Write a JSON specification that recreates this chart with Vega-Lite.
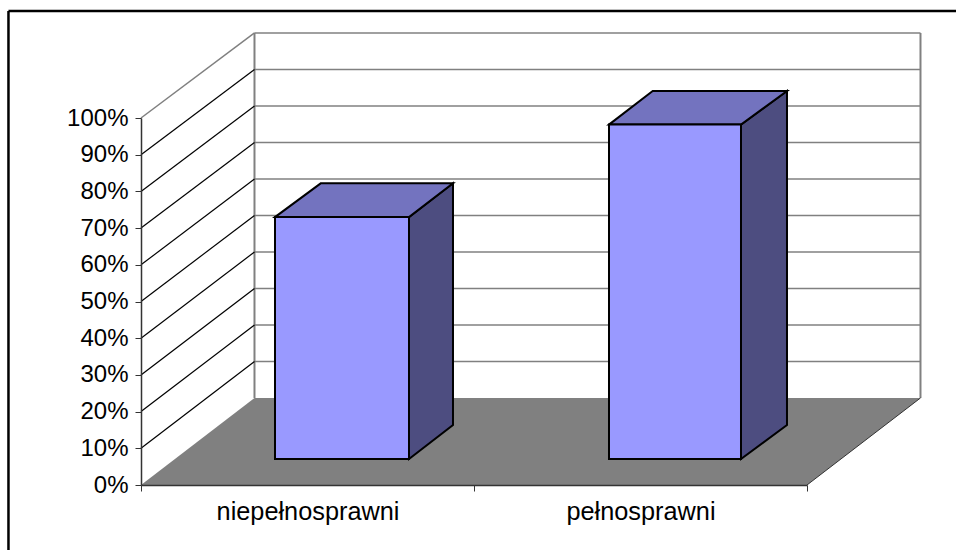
{
"$schema":"https://vega.github.io/schema/vega-lite/v6.json",
"width":666,"height":367,
"autosize":"none",
"padding":{"left":141,"top":118,"right":149,"bottom":65},
"background":"white",
"config":{"view":{"stroke":null},"font":"Liberation Sans"},
"datasets":{
"levels":[{"level":0,"back":0.2371},{"level":0.1,"back":0.3366},{"level":0.2,"back":0.436},{"level":0.3,"back":0.5355},{"level":0.4,"back":0.6349},{"level":0.5,"back":0.7344},{"level":0.6,"back":0.8339},{"level":0.7,"back":0.9333},{"level":0.8,"back":1.0328},{"level":0.9,"back":1.1322},{"level":1,"back":1.2317}],
"floor":[{"level":0,"from":0,"to":2},{"level":0.2371,"from":0.3408,"to":2.3408}],
"frame":[{"left":-0.398,"right":2.45,"top":1.2916,"bottom":-0.18}],
"fronts":[{"category":"niepełnosprawni","start":0.4024,"end":0.8048,"base":0.0708,"top":0.73},{"category":"pełnosprawni","start":1.4054,"end":1.8018,"base":0.0708,"top":0.982}],
"tops":[{"category":"niepełnosprawni","level":0.73,"from":0.4024,"to":0.8048},{"category":"niepełnosprawni","level":0.822,"from":0.5396,"to":0.9369},{"category":"pełnosprawni","level":0.982,"from":1.4054,"to":1.8018},{"category":"pełnosprawni","level":1.0736,"from":1.5366,"to":1.9399}],
"sides":[{"category":"niepełnosprawni","along":0.8048,"low":0.0708,"high":0.73},{"category":"niepełnosprawni","along":0.9369,"low":0.1635,"high":0.822},{"category":"pełnosprawni","along":1.8018,"low":0.0708,"high":0.982},{"category":"pełnosprawni","along":1.9399,"low":0.1635,"high":1.0736}]
},
"layer":[
{"data":{"name":"levels"},"transform":[{"filter":"datum.level>0"}],"mark":{"type":"rule","stroke":"#808080","strokeWidth":1.6},
 "encoding":{"x":{"datum":0.3408,"type":"quantitative","scale":{"domain":[0,2],"nice":false,"zero":false},
   "axis":{"values":[0,0.5,1,1.5,2],"tickCount":10,"title":null,"grid":false,"domainColor":"#333333","domainWidth":1.5,"tickColor":"#333333","tickWidth":1,"tickSize":6,"tickOpacity":{"expr":"datum.value%1==0?1:0"},"labelExpr":"datum.value==0.5?'niepełnosprawni':datum.value==1.5?'pełnosprawni':''","labelFont":"Liberation Sans","labelFontSize":25.3,"labelLimit":400,"labelColor":"#000000","labelPadding":8,"labelFlush":false,"labelOverlap":false,"labelAngle":0,"zindex":1}},
  "x2":{"datum":2.3408},
  "y":{"field":"back","type":"quantitative","scale":{"domain":[0,1],"nice":false,"zero":false},
   "axis":{"values":[0,0.1,0.2,0.3,0.4,0.5,0.6,0.7,0.8,0.9,1],"tickCount":12,"format":".0%","title":null,"grid":false,"domainColor":"#333333","domainWidth":1.5,"tickColor":"#333333","tickWidth":1,"tickSize":6,"labelFont":"Liberation Sans","labelFontSize":24,"labelColor":"#000000","labelPadding":7,"labelOverlap":false,"zindex":1}}}},
{"data":{"name":"frame"},"mark":{"type":"rule","stroke":"#808080","strokeWidth":2},
 "encoding":{"x":{"datum":0.3408,"type":"quantitative"},"y":{"datum":0.2371,"type":"quantitative"},"y2":{"datum":1.2317}}},
{"data":{"name":"frame"},"mark":{"type":"rule","stroke":"#808080","strokeWidth":2},
 "encoding":{"x":{"datum":2.3408,"type":"quantitative"},"y":{"datum":0.2371,"type":"quantitative"},"y2":{"datum":1.2317}}},
{"data":{"name":"levels"},"transform":[{"filter":"datum.level>0 && datum.level<1"}],"mark":{"type":"rule","stroke":"#000000","strokeWidth":1.2},
 "encoding":{"x":{"datum":0,"type":"quantitative"},"x2":{"datum":0.3408},"y":{"field":"level","type":"quantitative"},"y2":{"field":"back"}}},
{"data":{"name":"levels"},"transform":[{"filter":"datum.level==1"}],"mark":{"type":"rule","stroke":"#808080","strokeWidth":1.5},
 "encoding":{"x":{"datum":0,"type":"quantitative"},"x2":{"datum":0.3408},"y":{"field":"level","type":"quantitative"},"y2":{"field":"back"}}},
{"data":{"name":"floor"},"mark":{"type":"area","orient":"horizontal","fill":"#808080"},
 "encoding":{"y":{"field":"level","type":"quantitative"},"x":{"field":"from","type":"quantitative"},"x2":{"field":"to"}}},
{"data":{"name":"frame"},"mark":{"type":"rule","stroke":"#333333","strokeWidth":1},
 "encoding":{"x":{"datum":2,"type":"quantitative"},"x2":{"datum":2.3408},"y":{"datum":0,"type":"quantitative"},"y2":{"datum":0.2371}}},
{"data":{"name":"sides"},"mark":{"type":"area","orient":"vertical","fill":"#4D4D80","stroke":"#000000","strokeWidth":2,"strokeJoin":"miter"},
 "encoding":{"detail":{"field":"category"},"x":{"field":"along","type":"quantitative"},"y":{"field":"low","type":"quantitative"},"y2":{"field":"high"}}},
{"data":{"name":"tops"},"mark":{"type":"area","orient":"horizontal","fill":"#7373BF","stroke":"#000000","strokeWidth":2,"strokeJoin":"miter"},
 "encoding":{"detail":{"field":"category"},"y":{"field":"level","type":"quantitative"},"x":{"field":"from","type":"quantitative"},"x2":{"field":"to"}}},
{"data":{"name":"fronts"},"mark":{"type":"rect","fill":"#9999FF","stroke":"#000000","strokeWidth":2},
 "encoding":{"x":{"field":"start","type":"quantitative"},"x2":{"field":"end"},"y":{"field":"base","type":"quantitative"},"y2":{"field":"top"}}},
{"data":{"name":"frame"},"mark":{"type":"rule","stroke":"#000000","strokeWidth":2.5},
 "encoding":{"x":{"field":"left","type":"quantitative"},"x2":{"field":"right"},"y":{"field":"top","type":"quantitative"}}},
{"data":{"name":"frame"},"mark":{"type":"rule","stroke":"#000000","strokeWidth":2.5},
 "encoding":{"x":{"field":"left","type":"quantitative"},"y":{"field":"bottom","type":"quantitative"},"y2":{"field":"top"}}}
]
}
